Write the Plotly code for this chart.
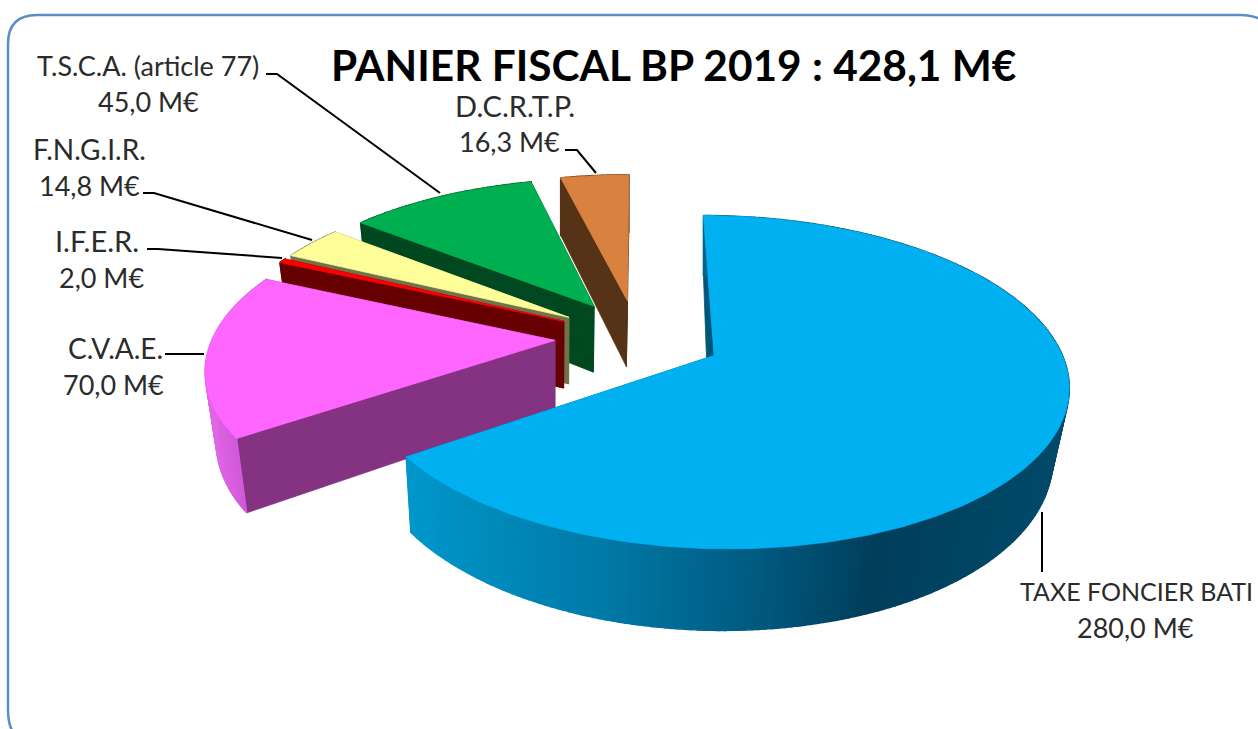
import numpy as np
import plotly.graph_objects as go

# ---- data ----
categories = ["TAXE FONCIER BATI", "C.V.A.E.", "I.F.E.R.", "F.N.G.I.R.", "T.S.C.A. (article 77)", "D.C.R.T.P."]
values = [280.0, 70.0, 2.0, 14.8, 45.0, 16.3]
title_text = "PANIER FISCAL BP 2019 : 428,1 M€"

top_colors = ["#00B0F0", "#FF66FF", "#FF0000", "#FFFF99", "#00B050", "#D9823F"]
cut_colors = ["#00567A", "#843382", "#660000", "#72724A", "#00481F", "#563216"]
wall_colors = ["#006A90", "#D95BE0", "#660000", "#72724A", "#00481F", "#563216"]
explode = [0.25, 0.24, 0.24, 0.24, 0.24, 0.24]

# ---- projection of the tilted pie to the page ----
CX, CY, A, B, K = 637.0, 337.0, 342.0, 156.5, 0.157


def project(X, Y):
    s = 1.0 / (1.0 + K * Y)
    return CX + A * X * s, CY - B * Y * s


def lower(x, y):
    fade = np.where(x > 553.0, np.clip((y - 250.0) / 100.0, 0.0, 1.0), 1.0)
    return x - 0.032 * (x - 553.0) * fade, y + 68.0 + 0.065 * (y - 340.0)


def hex2rgb(h):
    return np.array([int(h[i:i + 2], 16) for i in (1, 3, 5)], float)


BLUE_STOPS = [(408, "#0097CB"), (600, "#007BA8"), (760, "#005A80"), (876, "#003F5C"), (1070, "#004B6B")]
MAGENTA_STOPS = [(204, "#E068E6"), (245, "#CE55D6")]


def grad(x, stops):
    xs = [s[0] for s in stops]
    cs = np.array([hex2rgb(s[1]) for s in stops])
    c = [np.interp(x, xs, cs[:, i]) for i in range(3)]
    return "rgb(%d,%d,%d)" % tuple(c)


fig = go.Figure()


def poly(xs, ys, color, lw=0.8):
    fig.add_trace(go.Scatter(x=list(xs), y=list(ys), mode="lines", fill="toself",
                             fillcolor=color, line=dict(color=color, width=lw),
                             hoverinfo="skip", showlegend=False))


total = sum(values)
fractions = [v / total for v in values]
starts = np.concatenate([[0.0], np.cumsum(fractions)[:-1]]) * 2 * np.pi
ends = np.cumsum(fractions) * 2 * np.pi

# painter's order: farthest slice first
for i in [5, 4, 3, 2, 1, 0]:
    a0, a1 = starts[i], ends[i]
    mid = (a0 + a1) / 2
    ox, oy = explode[i] * np.sin(mid), explode[i] * np.cos(mid)
    t = np.linspace(a0, a1, max(6, int((a1 - a0) * 60)))
    ax, ay = project(ox + np.sin(t), oy + np.cos(t))
    px, py = project(ox, oy)
    lax, lay = lower(ax, ay)
    lpx, lpy = lower(np.array(px), np.array(py))

    # the two cut faces
    for k in (0, -1):
        poly([ax[k], px, lpx, lax[k], ax[k]], [ay[k], py, lpy, lay[k], ay[k]], cut_colors[i])
    # outer wall, as a strip so that it can shade along x
    for j in range(len(t) - 1):
        xm = (ax[j] + ax[j + 1]) / 2
        if i == 0:
            c = grad(xm, BLUE_STOPS)
        elif i == 1:
            c = grad(xm, MAGENTA_STOPS)
        else:
            c = wall_colors[i]
        poly([ax[j], ax[j + 1], lax[j + 1], lax[j], ax[j]],
             [ay[j], ay[j + 1], lay[j + 1], lay[j], ay[j]], c, lw=1.5)
    # top face
    poly(np.r_[px, ax, px], np.r_[py, ay, py], top_colors[i])

# ---- labels ----
money = [f"{v:.1f}".replace(".", ",") + " M€" for v in values]
label_pos = [((1136, 591), (1135, 627)), ((115, 348), (113, 384)), ((97, 240), (101, 277)),
             ((89, 149), (89, 185)), ((148, 65), (148, 101)), ((515, 105), (509, 141))]
name_sizes = [25, 28, 29, 28, 27, 29]
annotations = []
for name, val, (p1, p2), size in zip(categories, money, label_pos, name_sizes):
    for txt, p, fs in ((name, p1, size), (val, p2, 27)):
        annotations.append(dict(x=p[0], y=p[1], text=txt, showarrow=False, xref="x", yref="y",
                                xanchor="center", yanchor="middle",
                                font=dict(family="Lato", size=fs, color="#2b2b2b")))
annotations.append(dict(x=673.5, y=64, text="<b>" + title_text + "</b>", showarrow=False, xref="x", yref="y",
                        xanchor="center", yanchor="middle",
                        font=dict(family="Lato", size=42.4, color="#000000")))

leader_paths = ["M266,74 L277,74 L440,193", "M143,193 L154,193 L312,240", "M147,249 L158,249 L282,258",
                "M165,354 L204,354", "M565,150 L577,150 L596,173", "M1042,512 L1042,572"]
shapes = [dict(type="path", path=p, line=dict(color="#000000", width=2), xref="x", yref="y", layer="above")
          for p in leader_paths]
shapes.append(dict(type="path", xref="x", yref="y", layer="below",
                   path="M8,44 Q8,15 37,15 L1240,15 Q1268,15 1282,40 L1282,745 "
                        "L40,745 Q8,745 8,710 Z",
                   line=dict(color="#5B8EC4", width=2.5), fillcolor="#FFFFFF"))

fig.update_layout(
    width=1258, height=729, margin=dict(l=0, r=0, t=0, b=0),
    paper_bgcolor="#FFFFFF", plot_bgcolor="#FFFFFF",
    xaxis=dict(range=[0, 1258], visible=False, fixedrange=True),
    yaxis=dict(range=[729, 0], visible=False, fixedrange=True),
    annotations=annotations, shapes=shapes, showlegend=False,
)
fig.write_html("out.html", config={"displayModeBar": False},
               post_script="document.body.style.margin='0';document.body.style.overflow='hidden';")
